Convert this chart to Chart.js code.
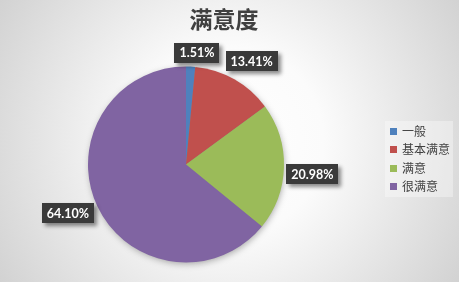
<!DOCTYPE html>
<html>
<head>
<meta charset="utf-8">
<script src="https://cdn.jsdelivr.net/npm/chart.js@4"></script>
<style>
  html, body { margin: 0; padding: 0; background: #ffffff; }
  #wrap { width: 459px; height: 282px; position: relative; }
</style>
</head>
<body>
<div id="wrap"><canvas id="c" width="459" height="282"></canvas></div>
<script>
// Survey results: satisfaction levels (percent)
const chartTitle = '满意度';
const categories = ['一般', '基本满意', '满意', '很满意'];
const shares = [1.51, 13.41, 20.98, 64.10];
const sliceColors = ['#4f81bd', '#c0504d', '#9bbb59', '#8064a2'];

const FONT_CJK = '"Noto Sans CJK SC", "Noto Sans", sans-serif';
const FONT_LABEL = 'Lato, "Open Sans", sans-serif';

// Soft radial backdrop behind the whole canvas
const backdrop = {
  id: 'backdrop',
  beforeDraw(chart) {
    const { ctx, width, height } = chart;
    const g = ctx.createRadialGradient(width / 2, height / 2, 0, width / 2, height / 2, Math.hypot(width, height) / 2);
    g.addColorStop(0, '#ffffff');
    g.addColorStop(0.35, '#fbfbfb');
    g.addColorStop(1, '#d2d2d2');
    ctx.save();
    ctx.fillStyle = g;
    ctx.fillRect(0, 0, width, height);
    ctx.restore();
  }
};

// Drop shadow beneath the pie
const pieShadow = {
  id: 'pieShadow',
  beforeDatasetsDraw(chart) {
    const arc = chart.getDatasetMeta(0).data[0];
    if (!arc) return;
    const { ctx } = chart;
    ctx.save();
    ctx.shadowColor = 'rgba(0,0,0,0.35)';
    ctx.shadowBlur = 7;
    ctx.shadowOffsetX = 1;
    ctx.shadowOffsetY = 2;
    ctx.fillStyle = '#888';
    ctx.beginPath();
    ctx.arc(arc.x, arc.y, arc.outerRadius - 1, 0, Math.PI * 2);
    ctx.fill();
    ctx.restore();
  }
};

// Dark value tags placed just outside each slice
const valueTags = {
  id: 'valueTags',
  afterDatasetsDraw(chart) {
    const { ctx } = chart;
    const meta = chart.getDatasetMeta(0);
    ctx.save();
    ctx.font = 'bold 12.5px ' + FONT_LABEL;
    ctx.textAlign = 'center';
    ctx.textBaseline = 'middle';
    meta.data.forEach((arc, i) => {
      const text = shares[i].toFixed(2) + '%';
      const mid = (arc.startAngle + arc.endAngle) / 2 + 0.05;
      const dx = Math.cos(mid), dy = Math.sin(mid);
      const w = ctx.measureText(text).width + 10;
      const h = 20;
      const ext = Math.abs(dx) * w / 2 + Math.abs(dy) * h / 2;
      const dist = arc.outerRadius + 2 + ext;
      const cx = arc.x + dx * dist;
      const cy = arc.y + dy * dist;
      ctx.save();
      ctx.shadowColor = 'rgba(0,0,0,0.45)';
      ctx.shadowBlur = 4;
      ctx.shadowOffsetX = 3;
      ctx.shadowOffsetY = 3;
      ctx.fillStyle = '#3a3a3a';
      ctx.fillRect(Math.round(cx - w / 2), Math.round(cy - h / 2), Math.round(w), h);
      ctx.restore();
      ctx.fillStyle = '#ffffff';
      ctx.fillText(text, cx, cy + 0.5);
    });
    ctx.restore();
  }
};

// Title and legend drawn on top
const titleAndKey = {
  id: 'titleAndKey',
  afterDraw(chart) {
    const { ctx } = chart;
    ctx.save();
    ctx.fillStyle = '#404040';
    ctx.font = 'bold 23px ' + FONT_CJK;
    ctx.textAlign = 'center';
    ctx.textBaseline = 'middle';
    ctx.fillText(chartTitle, 224, 19);

    const x0 = 390, y0 = 131, step = 18.5;
    ctx.fillStyle = 'rgba(255,255,255,0.35)';
    ctx.fillRect(385, 121, 68, 76);
    ctx.font = '12px ' + FONT_CJK;
    ctx.textAlign = 'left';
    categories.forEach((name, i) => {
      const y = y0 + i * step;
      ctx.fillStyle = sliceColors[i];
      ctx.fillRect(x0, Math.round(y - 3.5), 7, 7);
      ctx.fillStyle = '#404040';
      ctx.fillText(name, x0 + 12, y);
    });
    ctx.restore();
  }
};

new Chart(document.getElementById('c'), {
  type: 'pie',
  data: {
    labels: categories,
    datasets: [{
      data: shares,
      backgroundColor: sliceColors,
      borderWidth: 0
    }]
  },
  options: {
    responsive: false,
    animation: false,
    layout: { padding: { left: 88, right: 175, top: 66, bottom: 19 } },
    plugins: {
      legend: { display: false },
      title: { display: false },
      tooltip: { enabled: false }
    }
  },
  plugins: [backdrop, pieShadow, valueTags, titleAndKey]
});
</script>
</body>
</html>
